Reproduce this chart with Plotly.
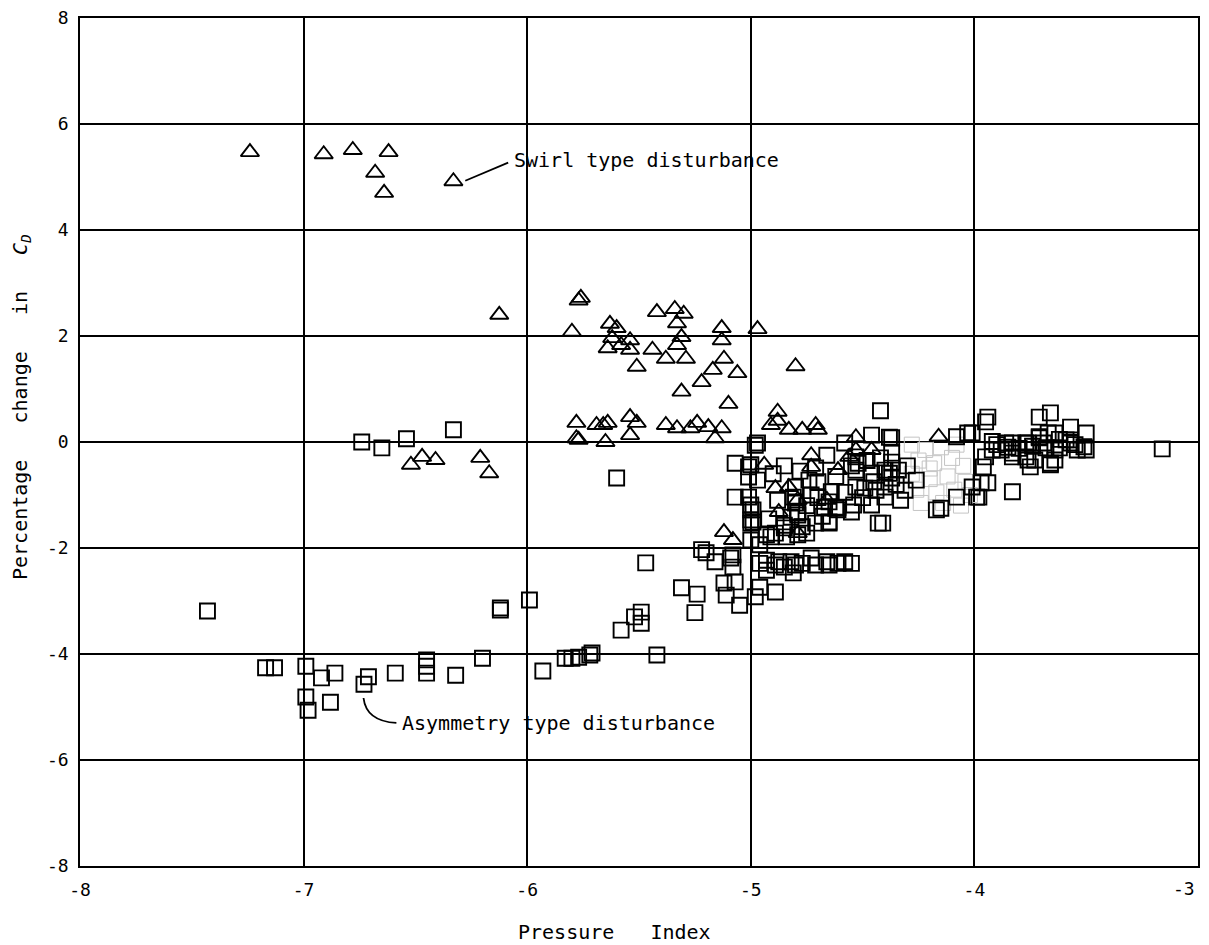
import plotly.graph_objects as go

# ---------------- data ----------------
x_ticks = [-8, -7, -6, -5, -4, -3]
x_ticklabels = ["-8", "-7", "-6", "-5", "-4", ""]
x_last_label = "-3"
y_ticks = [-8, -6, -4, -2, 0, 2, 4, 6, 8]
y_ticklabels = ["-8", "-6", "-4", "-2", "0", "2", "4", "6", "8"]

# Swirl type disturbance (triangles)
swirl_x = [-7.24, -6.91, -6.78, -6.62, -6.68, -6.64, -6.33,
           -6.125, -5.77, -5.76, -5.80, -5.63, -5.60, -5.62, -5.64, -5.58, -5.54, -5.54, -5.51,
           -5.44, -5.42, -5.34, -5.30, -5.33, -5.31, -5.33, -5.38, -5.29, -5.31, -5.22, -5.17,
           -5.12, -5.13, -5.13, -5.06, -5.10, -4.97, -4.80,
           -5.78, -5.78, -5.77, -5.69, -5.66, -5.64, -5.65, -5.54, -5.51, -5.54, -5.38, -5.33,
           -5.27, -5.24, -5.19, -5.13, -5.16, -4.88, -4.91, -4.83, -4.77, -4.71, -4.70, -4.88,
           -6.52, -6.47, -6.41, -6.21, -6.17,
           -4.94, -4.89, -4.83, -4.73, -4.73, -4.875, -5.12, -5.08, -4.79, -4.66, -4.53, -4.53,
           -4.46, -4.79, -4.61, -4.16, -4.56]
swirl_y = [5.47, 5.43, 5.51, 5.47, 5.08, 4.70, 4.92,
           2.40, 2.67, 2.72, 2.08, 2.23, 2.15, 1.96, 1.77, 1.83, 1.92, 1.74, 1.42,
           1.74, 2.45, 2.51, 2.42, 2.24, 1.98, 1.83, 1.57, 1.57, 0.95, 1.13, 1.36,
           1.57, 2.15, 1.92, 1.30, 0.72, 2.13, 1.43,
           0.36, 0.07, 0.04, 0.32, 0.32, 0.36, 0.00, 0.47, 0.36, 0.13, 0.32, 0.26,
           0.26, 0.36, 0.28, 0.26, 0.07, 0.57, 0.32, 0.23, 0.23, 0.32, 0.23, 0.40,
           -0.43, -0.28, -0.34, -0.30, -0.59,
           -0.43, -0.87, -0.85, -0.25, -0.47, -1.32, -1.70, -1.85, -1.09, -1.09, 0.09, -0.15,
           -0.15, -1.72, -0.53, 0.10, -0.28]

# Asymmetry type disturbance (squares)
asym_x = [-7.43, -7.17, -7.13, -6.99, -6.92, -6.86, -6.99, -6.98, -6.88, -6.71, -6.73, -6.59,
          -6.45, -6.45, -6.45, -6.32, -6.20, -6.12, -6.12, -5.99, -5.93, -5.83, -5.80, -5.77,
          -5.72, -5.71,
          -6.74, -6.65, -6.54, -6.33, -5.60,
          -5.47, -5.58, -5.52, -5.49, -5.49, -5.42,
          -5.31, -5.24, -5.25, -5.22, -5.16, -5.08, -5.08, -5.12, -5.07, -5.11, -5.05, -5.00,
          -4.99, -5.00, -4.96, -4.96, -4.98, -4.89, -4.93, -4.89, -4.85, -4.80, -4.81, -4.77,
          -4.71, -4.65, -4.61, -4.55, -4.79, -4.77, -4.85, -4.91, -4.79, -4.65, -4.80, -4.73,
          -4.65, -4.61,
          -5.20, -5.09, -4.96, -4.93, -4.89, -4.84, -4.93, -4.875, -4.82, -4.73, -4.66, -4.58,
          -4.42, -3.94, -3.95, -3.71, -3.66, -3.57, -3.50, -3.50, -3.16, -3.83, -4.46, -4.37,
          -4.58, -4.97, -4.66, -4.71, -4.80, -4.82, -4.75, -5.01, -5.01, -5.01, -4.99, -5.00,
          -4.81, -4.79, -4.64, -4.62, -4.53, -4.54, -4.53, -4.53, -4.46, -4.44, -4.46, -4.41,
          -4.37, -4.37, -4.37, -4.40, -4.34, -4.31, -4.26, -4.15, -4.08, -4.01, -4.01, -3.99,
          -3.94, -3.95, -3.92, -3.88, -3.83, -3.83, -3.76, -3.76, -3.71, -3.68, -3.64, -3.62,
          -3.64, -3.57, -3.51, -3.66, -3.75, -4.17,
          -5.07, -5.00, -4.97, -4.98, -5.07, -5.00, -5.00, -4.74, -4.79, -4.71, -4.65, -4.67,
          -4.61, -4.55, -4.52, -4.49, -4.43, -4.38,
          -4.08, -3.98, -3.97, -4.40, -4.40, -4.38, -3.96, -3.92, -3.86, -3.83, -3.77, -3.77,
          -3.71, -3.73, -3.67, -3.64, -3.66, -3.57, -3.54, -3.59, -4.03,
          -4.90, -4.85, -4.78, -4.70, -4.62, -4.58, -4.50, -4.45, -4.55, -4.48, -4.42, -4.35,
          -4.30, -4.33, -4.70, -4.75, -4.88, -4.92, -4.85, -4.68, -3.90, -3.85, -3.80, -3.74,
          -3.69, -3.62, -3.55]
asym_y = [-3.19, -4.26, -4.26, -4.23, -4.45, -4.36, -4.81, -5.06, -4.91, -4.43, -4.57, -4.36,
          -4.11, -4.23, -4.36, -4.40, -4.08, -3.13, -3.17, -2.98, -4.32, -4.08, -4.08, -4.06,
          -4.02, -3.98,
          0.00, -0.11, 0.06, 0.23, -0.68,
          -2.28, -3.55, -3.30, -3.21, -3.42, -4.02,
          -2.75, -2.87, -3.22, -2.03, -2.26, -2.13, -2.36, -2.66, -2.64, -2.89, -3.08, -1.28,
          -1.51, -1.85, -2.29, -2.74, -2.92, -2.83, -2.42, -2.32, -2.36, -2.32, -2.47, -2.29,
          -2.32, -2.32, -2.29, -2.29, -1.75, -1.60, -1.57, -1.79, -1.32, -1.51, -1.15, -1.00,
          -1.13, -1.28,
          -2.09, -2.19, -1.94, -1.75, -1.72, -1.79, -2.23, -2.26, -2.26, -2.19, -2.26, -2.26,
          0.59, 0.47, 0.38, 0.47, 0.55, 0.28, 0.17, -0.15, -0.13, -0.94, 0.13, 0.08,
          -0.02, -0.02, -0.25, -0.49, -0.85, -1.42, -1.72, -0.47, -0.66, -1.04, -1.28, -1.53,
          -1.04, -1.38, -0.94, -1.25, -0.85, -1.19, -0.53, -0.28, -0.59, -0.91, -1.19, -1.53,
          -0.21, -0.38, -0.68, -1.04, -0.53, -0.91, -0.72, -1.25, 0.10, 0.17, -0.85, -1.04,
          -0.77, -0.28, 0.01, -0.15, -0.02, -0.28, -0.34, -0.02, 0.10, -0.11, 0.17, -0.11,
          -0.34, 0.04, -0.09, -0.43, -0.47, -1.28,
          -0.40, -0.43, -0.72, -0.06, -1.04, -1.19, -1.47, -0.72, -1.34, -1.53, -1.53, -1.23,
          -1.23, -1.32, -0.40, -0.87, -1.53, -0.59,
          -1.04, -1.04, -0.77, -0.53, -0.85, 0.09, -0.47, -0.15, -0.02, -0.21, -0.02, -0.28,
          0.08, -0.34, 0.17, -0.15, -0.40, -0.02, -0.15, 0.04, 0.17,
          -0.60, -0.45, -0.55, -0.75, -0.65, -0.95, -1.05, -0.75, -0.45, -0.35, -0.30, -0.80,
          -0.45, -1.10, -1.05, -1.20, -1.10, -1.45, -1.62, -1.40, -0.05, -0.10, -0.12, -0.08,
          -0.02, 0.05, -0.05]

# faintly printed squares in the dense region
faint_x = [-4.28, -4.22, -4.15, -4.08, -4.25, -4.18, -4.10, -4.05, -4.28, -4.20, -4.12, -4.04,
           -4.26, -4.17, -4.09, -4.02, -4.24, -4.14, -4.06, -4.20]
faint_y = [-0.05, -0.15, -0.10, -0.05, -0.35, -0.40, -0.30, -0.45, -0.60, -0.70, -0.65, -0.75,
           -0.90, -0.95, -0.90, -1.00, -1.15, -1.15, -1.20, -0.50]

# annotation geometry
swirl_label = dict(text="Swirl type disturbance", x=-6.07, y=5.33)
swirl_leader = dict(x0=-6.277, y0=4.93, x1=-6.085, y1=5.27)
asym_label = dict(text="Asymmetry type disturbance", x=-6.571, y=-5.30)
asym_leader_path = "M -6.732,-4.83 Q -6.72,-5.27 -6.585,-5.30"

FONT = "DejaVu Sans Mono"
NB = "\u00a0"

fig = go.Figure()
fig.add_trace(go.Scatter(
    x=faint_x, y=faint_y, mode="markers", showlegend=False,
    marker=dict(symbol="square-open", size=15, color="#c4c4c4", line=dict(width=1)),
))
fig.add_trace(go.Scatter(
    x=asym_x, y=asym_y, mode="markers", showlegend=False,
    marker=dict(symbol="square-open", size=15, color="black", line=dict(width=1.9)),
))
fig.add_trace(go.Scatter(
    x=swirl_x, y=swirl_y, mode="markers", showlegend=False,
    marker=dict(symbol="triangle-up-open", size=16, color="black", line=dict(width=1.9)),
))

fig.add_shape(type="line", xref="x", yref="y", line=dict(color="black", width=1.8), **swirl_leader)
fig.add_shape(type="path", xref="x", yref="y", path=asym_leader_path,
              line=dict(color="black", width=1.8))

fig.add_annotation(x=swirl_label["x"], y=swirl_label["y"], text=swirl_label["text"],
                   xref="x", yref="y", showarrow=False, xanchor="left", yanchor="middle",
                   font=dict(family=FONT, size=20, color="black"))
fig.add_annotation(x=asym_label["x"], y=asym_label["y"], text=asym_label["text"],
                   xref="x", yref="y", showarrow=False, xanchor="left", yanchor="middle",
                   font=dict(family=FONT, size=20, color="black"))

# last x tick label, placed just inside the right edge as in the reference
fig.add_annotation(x=x_ticks[-1], y=(858 - 881) / 848, xref="x", yref="paper",
                   showarrow=False, text=x_last_label, xanchor="right", yanchor="middle",
                   xshift=-1, font=dict(family=FONT, size=18, color="black"))

# axis titles (page is offset by 8px body margin; plot area spans x 72..1190, y 10..858 in figure px)
fig.add_annotation(x=(13 - 72) / 1118, y=(858 - 399) / 848, xref="paper", yref="paper",
                   showarrow=False,
                   text="Percentage" + NB * 3 + "change" + NB * 3 + "in" + NB * 3 + "<i>C<sub>D</sub></i>",
                   textangle=-90, xanchor="center", yanchor="middle",
                   font=dict(family=FONT, size=20, color="black"))
fig.add_annotation(x=(606 - 72) / 1118, y=(858 - 924) / 848, xref="paper", yref="paper",
                   showarrow=False,
                   text="Pressure" + NB * 3 + "Index", xanchor="center", yanchor="middle",
                   font=dict(family=FONT, size=20, color="black"))

axis_common = dict(showgrid=True, gridcolor="black", gridwidth=1.5, showline=True,
                   linecolor="black", linewidth=1.5, mirror=True, zeroline=False, ticks="",
                   automargin=False, ticklabeloverflow="allow",
                   tickfont=dict(family=FONT, size=18, color="black"))
fig.update_xaxes(range=[-8, -3], tickmode="array", tickvals=x_ticks, ticktext=x_ticklabels,
                 ticklabelstandoff=7, **axis_common)
fig.update_yaxes(range=[-8, 8], tickmode="array", tickvals=y_ticks, ticktext=y_ticklabels,
                 ticklabelstandoff=6, **axis_common)

fig.update_layout(width=1201, height=937, margin=dict(l=72, r=11, t=10, b=79),
                  plot_bgcolor="white", paper_bgcolor="white")

fig.write_html("out.html")
